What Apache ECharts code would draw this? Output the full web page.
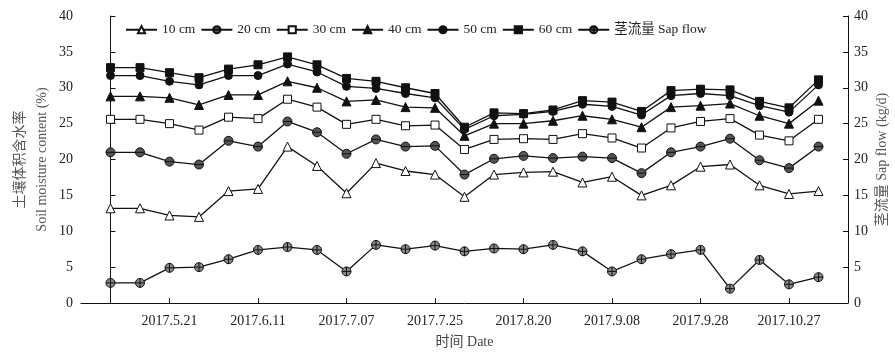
<!DOCTYPE html>
<html><head><meta charset="utf-8">
<script src="https://cdn.jsdelivr.net/npm/echarts@6/dist/echarts.min.js"></script>
<style>html,body{margin:0;padding:0;background:#fff}#c{width:895px;height:359px}</style>
</head><body><div id="c"></div>
<script>
var tickLabels = ['2017.5.21','2017.6.11','2017.7.07','2017.7.25','2017.8.20','2017.9.08','2017.9.28','2017.10.27'];
var tickIndex = [2,5,8,11,14,17,20,23];
var cm10 = [13.2,13.2,12.2,12.0,15.6,15.9,21.8,19.1,15.3,19.5,18.4,17.9,14.8,17.9,18.2,18.3,16.8,17.6,15.0,16.4,19.0,19.3,16.4,15.2,15.6];
var cm20 = [21.0,21.0,19.7,19.3,22.6,21.8,25.3,23.8,20.8,22.8,21.8,21.9,17.9,20.1,20.5,20.2,20.4,20.2,18.1,21.0,21.8,22.9,19.9,18.8,21.8];
var cm30 = [25.6,25.6,25.0,24.1,25.9,25.7,28.4,27.3,24.9,25.6,24.7,24.8,21.4,22.8,22.9,22.8,23.6,23.0,21.6,24.4,25.3,25.7,23.4,22.6,25.6];
var cm40 = [28.8,28.8,28.6,27.6,29.0,29.0,30.9,30.0,28.1,28.3,27.3,27.2,23.3,25.0,25.0,25.4,26.1,25.6,24.5,27.3,27.5,27.8,26.1,25.0,28.2];
var cm50 = [31.7,31.7,30.9,30.4,31.7,31.7,33.3,32.2,30.2,29.9,29.2,28.6,24.2,26.1,26.3,26.7,27.7,27.4,26.2,28.9,29.2,28.9,27.5,26.6,30.4];
var cm60 = [32.8,32.8,32.1,31.4,32.6,33.2,34.3,33.2,31.3,30.9,30.0,29.2,24.5,26.5,26.4,26.9,28.2,28.0,26.7,29.6,29.8,29.7,28.1,27.2,31.1];
var sapFlow = [2.8,2.8,4.9,5.0,6.1,7.4,7.8,7.4,4.4,8.1,7.5,8.0,7.2,7.6,7.5,8.1,7.2,4.4,6.1,6.8,7.4,2.0,6.0,2.6,3.6];
var seriesNames = ['10 cm','20 cm','30 cm','40 cm','50 cm','60 cm','茎流量 Sap flow'];

function pairs(arr){ return arr.map(function(v,i){ return [i,v]; }); }
var circ = 'M0,-10A10,10 0 1,1 0,10A10,10 0 1,1 0,-10Z';
var symMinus = 'path://' + circ + 'M-10,0L10,0';
var symPlus = 'path://' + circ + 'M-10,0L10,0M0,-10L0,10';

function mk(name, data, symbol, fill, size, yIdx){
  return {
    name: name, type: 'line', data: pairs(data), yAxisIndex: yIdx || 0,
    symbol: symbol, symbolSize: size, showAllSymbol: true,
    lineStyle: {color: '#111', width: 1.3},
    itemStyle: {color: fill, borderColor: '#111', borderWidth: 1},
    emphasis: {disabled: true}, animation: false
  };
}
var chart = echarts.init(document.getElementById('c'), null, {renderer: 'canvas'});
var FF = 'Liberation Serif, Noto Sans CJK SC';
var txt = {fontFamily: FF, color: '#222', fontSize: 14};
var yCommon = {
  type: 'value', min: 0, max: 40, interval: 5,
  axisLine: {show: true, lineStyle: {color: '#111', width: 1}},
  axisTick: {show: true, inside: true, length: 5, lineStyle: {color: '#111'}},
  splitLine: {show: false},
  nameLocation: 'middle', nameRotate: 90, nameMoveOverlap: false,
  nameTextStyle: {fontFamily: FF, color: '#555', fontSize: 14, lineHeight: 22}
};
chart.setOption({
  backgroundColor: '#fff',
  animation: false,
  grid: {left: 81, right: 47, top: 16, bottom: 56, containLabel: false, outerBoundsMode: 'none'},
  legend: {
    top: 18, left: 120, itemWidth: 31, itemHeight: 9, itemGap: 5,
    textStyle: {fontFamily: FF, color: '#222', fontSize: 13.5}, data: seriesNames
  },
  xAxis: {
    type: 'value', min: -1, max: 25,
    name: '时间 Date', nameLocation: 'middle', nameGap: 32, nameMoveOverlap: false,
    nameTextStyle: {fontFamily: FF, color: '#444', fontSize: 14},
    axisLine: {show: true, lineStyle: {color: '#111'}},
    axisTick: {show: true, inside: true, length: 5, customValues: tickIndex, lineStyle: {color: '#111'}},
    axisLabel: Object.assign({customValues: tickIndex, margin: 11, formatter: function(v){ var k = tickIndex.indexOf(Math.round(v)); return k >= 0 ? tickLabels[k] : ''; }}, txt),
    splitLine: {show: false}
  },
  yAxis: [
    Object.assign({}, yCommon, {position: 'left', name: '土壤体积含水率\nSoil moisture content (%)', nameGap: 28,
      axisLabel: Object.assign({margin: 8}, txt)}),
    Object.assign({}, yCommon, {position: 'right', name: '茎流量 Sap flow (kg/d)', nameGap: 23,
      axisLabel: Object.assign({margin: 6}, txt)})
  ],
  series: [
    mk(seriesNames[0], cm10, 'triangle', '#fff', 9),
    mk(seriesNames[1], cm20, symMinus, '#555', 9),
    mk(seriesNames[2], cm30, 'rect', '#fff', 8),
    mk(seriesNames[3], cm40, 'triangle', '#111', 9),
    mk(seriesNames[4], cm50, 'circle', '#111', 8),
    mk(seriesNames[5], cm60, 'rect', '#111', 8),
    mk(seriesNames[6], sapFlow, symPlus, '#888', 9, 1)
  ]
});
</script></body></html>
